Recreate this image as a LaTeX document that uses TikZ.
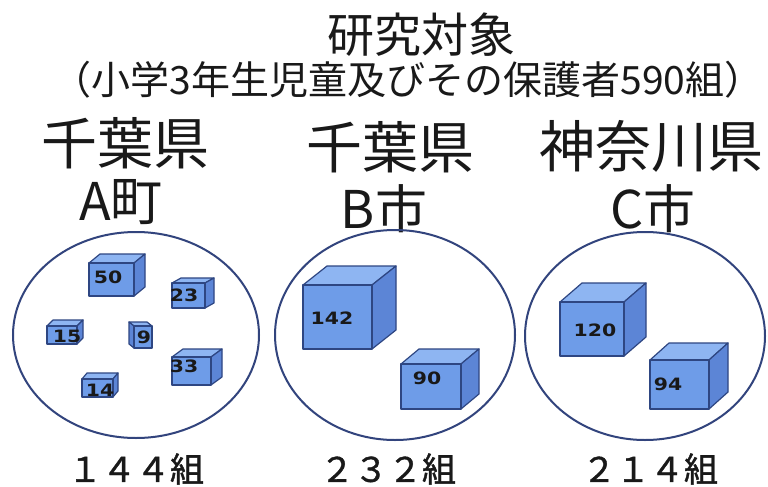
\documentclass[tikz,border=0pt]{standalone}
\usepackage{fontspec}
\usepackage{graphicx}
\setmainfont{Noto Sans CJK JP}
\newfontfamily\jp{Noto Sans CJK JP}
\newfontfamily\jpcount{Noto Sans CJK JP}[FakeBold=1.2]
\newfontfamily\boxnum{DejaVu Sans}
\usetikzlibrary{shapes.geometric}
\definecolor{cfront}{RGB}{110,156,232}
\definecolor{ctop}{RGB}{142,181,242}
\definecolor{cside}{RGB}{92,133,214}
\definecolor{cline}{RGB}{46,70,130}
\definecolor{eline}{RGB}{50,68,125}
\definecolor{txt}{RGB}{25,25,25}
\newcommand\cubebox[6]{%
  \filldraw[cubetop] (#1,#2) -- ++(#5,#6) -- ++({#3-#1},0) -- (#3,#2) -- cycle;
  \filldraw[cubeside] (#3,#2) -- ++(#5,#6) -- ++(0,{#4-#2}) -- (#3,#4) -- cycle;
  \filldraw[cubefront] (#1,#2) rectangle (#3,#4);
}
\newcommand\bnum[1]{\scalebox{1.2}[1]{#1}}
\begin{document}
\begin{tikzpicture}[x=1pt,y=-1pt,
  cubefront/.style={fill=cfront,draw=cline,line width=1.2pt,line join=round},
  cubetop/.style={fill=ctop,draw=cline,line width=1.2pt,line join=round},
  cubeside/.style={fill=cside,draw=cline,line width=1.2pt,line join=round},
  group/.style={draw=eline,line width=2pt,ellipse,inner sep=0pt},
  boxlabel/.style={inner sep=0pt,text=txt,font=\boxnum\bfseries\fontsize{17}{17}\selectfont},
  head/.style={inner sep=0pt,text=txt,font=\jp\fontsize{56}{56}\selectfont},
  place/.style={inner sep=0pt,text=txt,font=\jp\fontsize{52}{52}\selectfont},
  count/.style={inner sep=0pt,text=txt,font=\jpcount\fontsize{34}{34}\selectfont}
]
\useasboundingbox (0,0) rectangle (768,487);
\fill[white] (0,0) rectangle (768,487);

\node[inner sep=0pt,text=txt,font=\jp\fontsize{47}{47}\selectfont] (title) at (421,35) {研究対象};
\node[inner sep=0pt,text=txt,font=\jp\fontsize{39}{39}\selectfont] (sub) at (408,80) {（小学3年生児童及びその保護者590組）};

\node[head] (prefA) at (125,143) {千葉県};
\node[head] (prefB) at (390,147) {千葉県};
\node[head] (prefC) at (651,146) {神奈川県};
\node[place] (cityA) at (121,202) {A町};
\node[place] (cityB) at (384,209) {B市};
\node[place] (cityC) at (653,209) {C市};

\node[group,minimum width=246pt,minimum height=206pt] (gA) at (136,335) {};
\node[group,minimum width=240pt,minimum height=210pt] (gB) at (395,335) {};
\node[group,minimum width=240pt,minimum height=208pt] (gC) at (645,336) {};

% A town
\cubebox{89}{263}{134}{296}{11}{-9}
\node[boxlabel] (n50) at (108,277) {\bnum{50}};
\cubebox{172}{283}{205}{308}{9}{-5}
\node[boxlabel] (n23) at (184,295) {\bnum{23}};
\cubebox{47}{326}{77}{344}{6}{-6}
\node[boxlabel] (n15) at (67,336) {\bnum{15}};
\filldraw[cubetop] (134,326) -- ++(-5,-4) -- ++(18,0) -- (152,326) -- cycle;
\filldraw[cubeside] (134,326) -- ++(-5,-4) -- ++(0,22) -- (134,348) -- cycle;
\filldraw[cubefront] (134,326) rectangle (152,348);
\node[boxlabel] (n9) at (144,337) {\bnum{9}};
\cubebox{172}{357}{211}{385}{11}{-8}
\node[boxlabel] (n33) at (184,366) {\bnum{33}};
\cubebox{82}{379}{113}{397}{5}{-6}
\node[boxlabel] (n14) at (100,390) {\bnum{14}};

% B city
\cubebox{303}{285}{372}{349}{24}{-19}
\node[boxlabel] (n142) at (332,318) {\bnum{142}};
\cubebox{401}{364}{461}{409}{18}{-15}
\node[boxlabel] (n90) at (427,378) {\bnum{90}};

% C city
\cubebox{560}{302}{624}{356}{22}{-19}
\node[boxlabel] (n120) at (595,330) {\bnum{120}};
\cubebox{650}{360}{709}{409}{19}{-17}
\node[boxlabel] (n94) at (668,384) {\bnum{94}};

\node[count] (cA) at (136,469) {１４４組};
\node[count] (cB) at (388,469) {２３２組};
\node[count] (cC) at (650,469) {２１４組};
\end{tikzpicture}
\end{document}
